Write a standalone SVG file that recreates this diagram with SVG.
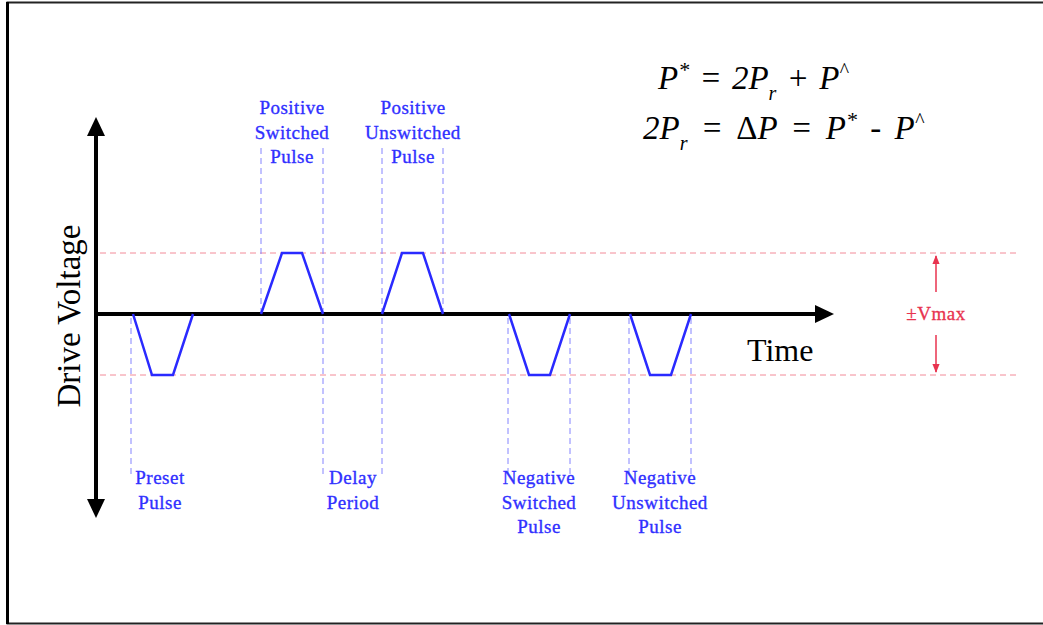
<svg xmlns="http://www.w3.org/2000/svg" width="1043" height="625" viewBox="0 0 1043 625">
<style>
.frame{fill:none;stroke:#222;stroke-width:2}
.axis{stroke:#000;stroke-width:4;fill:none}
.pulse{fill:none;stroke:#2a2aff;stroke-width:2.5;stroke-linejoin:miter}
.bdash{stroke:#8484ff;stroke-width:1;stroke-dasharray:6 4;fill:none}
.rdash{stroke:#f28a98;stroke-width:1;stroke-dasharray:6 4;fill:none}
.lbl{font-family:"Liberation Serif","Times New Roman",serif;font-size:19px;fill:#3030ff;stroke:#3030ff;stroke-width:0.35;text-anchor:middle;letter-spacing:0.5px}
.eq{font-family:"Liberation Serif","Times New Roman",serif;font-size:33px;font-style:italic;fill:#000}
.big{font-family:"Liberation Serif","Times New Roman",serif;fill:#000}
.red{font-family:"Liberation Serif","Times New Roman",serif;font-size:19px;fill:#e8334f;stroke:#e8334f;stroke-width:0.3;text-anchor:middle;letter-spacing:0.5px}
</style>
<defs>
<marker id="rh" viewBox="0 0 10 10" refX="9" refY="5" markerWidth="6" markerHeight="6" orient="auto-start-reverse" markerUnits="strokeWidth">
<path d="M0,1 L10,5 L0,9 Z" fill="#e8334f"/>
</marker>
</defs>
<rect width="1043" height="625" fill="#fff"/>
<path class="frame" d="M1043,2.5 L7.5,2.5 L7.5,623.5 L1043,623.5"/>
<line x1="7.5" y1="2" x2="7.5" y2="624" stroke="#000" stroke-width="3"/>

<g id="guides">
<line class="rdash" x1="100" y1="253" x2="1020" y2="253"/>
<line class="rdash" x1="100" y1="375" x2="1020" y2="375"/>
<line class="bdash" x1="131" y1="318" x2="131" y2="478"/>
<line class="bdash" x1="261" y1="148" x2="261" y2="312"/>
<line class="bdash" x1="323" y1="148" x2="323" y2="478"/>
<line class="bdash" x1="382" y1="148" x2="382" y2="478"/>
<line class="bdash" x1="443" y1="148" x2="443" y2="312"/>
<line class="bdash" x1="508" y1="318" x2="508" y2="478"/>
<line class="bdash" x1="570" y1="318" x2="570" y2="478"/>
<line class="bdash" x1="629" y1="318" x2="629" y2="478"/>
<line class="bdash" x1="691" y1="318" x2="691" y2="478"/>
</g>

<g id="connectors">
<line class="axis" x1="96" y1="134" x2="96" y2="500"/>
<path d="M96,117 L105,136 L87,136 Z" fill="#000"/>
<path d="M96,518 L105,499 L87,499 Z" fill="#000"/>
<line class="axis" x1="96" y1="314" x2="816" y2="314"/>
<path d="M834,314 L815,305 L815,323 Z" fill="#000"/>
<line x1="936" y1="256" x2="936" y2="292" stroke="#e8334f" stroke-width="1.5" marker-start="url(#rh)"/>
<line x1="936" y1="335" x2="936" y2="372" stroke="#e8334f" stroke-width="1.5" marker-end="url(#rh)"/>
</g>

<g id="pulses">
<polyline class="pulse" points="133,314 152,375 173,375 193,314"/>
<polyline class="pulse" points="261,314 282,253 302,253 323,314"/>
<polyline class="pulse" points="382,314 402,253 423,253 443,314"/>
<polyline class="pulse" points="509,314 529,375 550,375 570,314"/>
<polyline class="pulse" points="630,314 650,375 671,375 691,314"/>
</g>

<g id="label-positive-switched">
<text class="lbl" x="292" y="114">Positive</text>
<text class="lbl" x="292" y="139">Switched</text>
<text class="lbl" x="292" y="163">Pulse</text>
</g>
<g id="label-positive-unswitched">
<text class="lbl" x="413" y="114">Positive</text>
<text class="lbl" x="413" y="139">Unswitched</text>
<text class="lbl" x="413" y="163">Pulse</text>
</g>
<g id="label-preset">
<text class="lbl" x="160" y="484">Preset</text>
<text class="lbl" x="160" y="509">Pulse</text>
</g>
<g id="label-delay">
<text class="lbl" x="353" y="484">Delay</text>
<text class="lbl" x="353" y="509">Period</text>
</g>
<g id="label-negative-switched">
<text class="lbl" x="539" y="484">Negative</text>
<text class="lbl" x="539" y="509">Switched</text>
<text class="lbl" x="539" y="533">Pulse</text>
</g>
<g id="label-negative-unswitched">
<text class="lbl" x="660" y="484">Negative</text>
<text class="lbl" x="660" y="509">Unswitched</text>
<text class="lbl" x="660" y="533">Pulse</text>
</g>

<g id="axis-labels">
<text class="big" x="747" y="361" font-size="32">Time</text>
<text class="big" transform="translate(80,316) rotate(-90)" font-size="33" text-anchor="middle">Drive Voltage</text>
<text class="red" x="936" y="320">±Vmax</text>
</g>

<g id="equations">
<text class="eq" x="658" y="89" word-spacing="2">P<tspan font-size="22" dy="-12">*</tspan><tspan dy="12"> = 2P</tspan><tspan font-size="20" dy="11">r</tspan><tspan dy="-11"> + P</tspan><tspan font-size="20" dy="-12">^</tspan></text>
<text class="eq" x="643" y="139" word-spacing="5">2P<tspan font-size="20" dy="11">r</tspan><tspan dy="-11"> = </tspan><tspan font-style="normal">Δ</tspan>P = P<tspan font-size="22" dy="-12">*</tspan><tspan dy="12"> - P</tspan><tspan font-size="20" dy="-12">^</tspan></text>
</g>
</svg>
